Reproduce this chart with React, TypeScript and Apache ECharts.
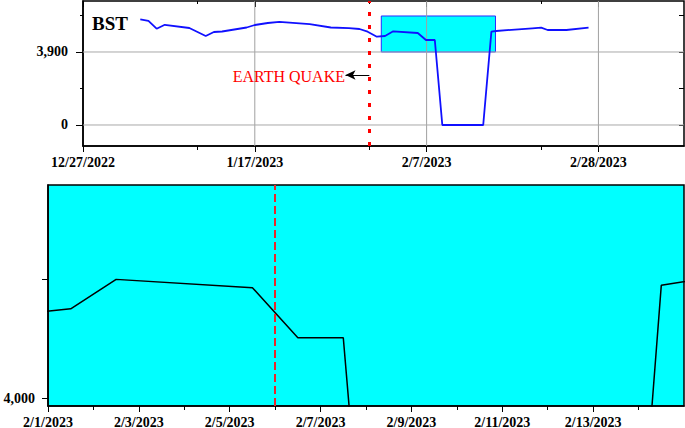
import React, { useEffect, useRef } from 'react';
import * as echarts from 'echarts';

// ---------- data ----------
const bstDates = [
  '2023-01-03', '2023-01-04', '2023-01-05', '2023-01-06', '2023-01-09', '2023-01-11',
  '2023-01-12', '2023-01-13', '2023-01-16', '2023-01-17', '2023-01-18 14:00', '2023-01-20',
  '2023-01-23 17:00', '2023-01-26 07:00', '2023-01-28 12:00', '2023-01-29 19:00', '2023-01-30 19:00',
  '2023-01-31 22:00', '2023-02-01 22:00', '2023-02-02 22:00', '2023-02-05 22:00', '2023-02-06 22:00',
  '2023-02-08 00:00', '2023-02-08 22:00', '2023-02-13 22:00', '2023-02-14 22:00', '2023-02-15 12:00',
  '2023-02-19 22:00', '2023-02-21 00:00', '2023-02-21 19:00', '2023-02-24 02:00', '2023-02-26 19:00',
];
const bstValues = [
  5647, 5566, 5144, 5353, 5182, 4754,
  4968, 4995, 5208, 5342, 5449, 5513,
  5385, 5208, 5171, 5128, 4984,
  4717, 4754, 5005, 4915, 4541,
  4541, 0, 0, 4984, 5021,
  5166, 5198, 5075, 5075, 5198,
];

const detailDates = [
  '2023-01-31 12:00', '2023-02-01 12:00', '2023-02-02 12:00', '2023-02-05 12:00', '2023-02-06 12:00',
  '2023-02-07 12:00', '2023-02-08 12:00', '2023-02-13 12:00', '2023-02-14 12:00', '2023-02-15 12:00',
];
const detailValues = [4712, 4750, 4997, 4927, 4507, 4507, 0, 0, 4947, 5010];

// axes domains and ticks
const topXMin = '2022-12-27';
const topXMax = '2023-03-10 11:00';
const topYMin = -1122;
const topYMax = 6624;
const topMajorDates = ['2022-12-27', '2023-01-17', '2023-02-07', '2023-02-28'];
const topMinorDates = ['2023-01-10', '2023-01-31', '2023-02-21'];
const topGridDates = ['2023-01-17', '2023-02-07', '2023-02-28'];
const topYLabels = [0, 3900];
const topYMinor = [1950, 5850];
const topYGrid = [0, 3900];

const detailXMin = '2023-02-01';
const detailXMax = '2023-02-15';
const detailYMin = 3933;
const detailYMax = 5790;
const detailMajorDates = ['2023-02-01', '2023-02-03', '2023-02-05', '2023-02-07', '2023-02-09', '2023-02-11', '2023-02-13'];
const detailMinorDates = ['2023-02-02', '2023-02-04', '2023-02-06', '2023-02-08', '2023-02-10', '2023-02-12', '2023-02-14'];
const detailYTicks = [4000, 5000];
const detailYLabels = [4000];

// annotations
const zoomBoxStart = '2023-02-01 11:00';
const zoomBoxEnd = '2023-02-15 10:00';
const zoomBoxLow = 3900;
const zoomBoxHigh = 5823;
const quakeDate = '2023-01-31';
const quakeDetailDate = '2023-02-06';
const arrowValue = 2671;
const arrowEndDate = '2023-01-28 02:00';

// ---------- helpers ----------
function ts(s: string): number {
  const [d, t] = s.split(' ');
  const [y, m, day] = d.split('-').map(Number);
  let h = 0;
  let mi = 0;
  if (t) {
    const p = t.split(':').map(Number);
    h = p[0];
    mi = p[1];
  }
  return Date.UTC(y, m - 1, day, h, mi);
}
function fmtDate(v: number): string {
  const d = new Date(v);
  return `${d.getUTCMonth() + 1}/${d.getUTCDate()}/${d.getUTCFullYear()}`;
}
function fmtNum(v: number): string {
  return String(Math.round(v)).replace(/\B(?=(\d{3})+(?!\d))/g, ',');
}

const FONT = "'Liberation Serif', 'Times New Roman', serif";
const labelStyle = { color: '#000', fontFamily: FONT, fontWeight: 'bold' as const, fontSize: 14 };

function tickAxis(opts: any) {
  return {
    type: 'value',
    gridIndex: opts.grid,
    min: opts.min,
    max: opts.max,
    position: opts.position,
    axisLine: { show: !!opts.line, onZero: false, lineStyle: { color: '#000', width: 1.5 } },
    axisTick: {
      show: true,
      inside: !!opts.inside,
      length: opts.len,
      customValues: opts.ticks,
      lineStyle: { color: '#000', width: 1 },
    },
    axisLabel: opts.labels
      ? { show: true, customValues: opts.labels, formatter: opts.formatter, margin: opts.margin, ...labelStyle }
      : { show: false },
    splitLine: { show: false },
    minorTick: { show: false },
  };
}

export default function App() {
  const ref = useRef<HTMLDivElement>(null);

  useEffect(() => {
    if (!ref.current) return;
    const chart = echarts.init(ref.current, undefined, { renderer: 'svg' });

    const txMin = ts(topXMin);
    const txMax = ts(topXMax);
    const dxMin = ts(detailXMin);
    const dxMax = ts(detailXMax);

    const xAxis = [
      tickAxis({ grid: 0, min: txMin, max: txMax, position: 'bottom', line: true, len: 6,
        ticks: topMajorDates.map(ts), labels: topMajorDates.map(ts), formatter: fmtDate, margin: 9 }),
      tickAxis({ grid: 0, min: txMin, max: txMax, position: 'bottom', len: 4, ticks: topMinorDates.map(ts) }),
      tickAxis({ grid: 0, min: txMin, max: txMax, position: 'top', inside: true, len: 6, ticks: topMajorDates.map(ts) }),
      tickAxis({ grid: 0, min: txMin, max: txMax, position: 'top', inside: true, len: 3, ticks: topMinorDates.map(ts) }),
      tickAxis({ grid: 1, min: dxMin, max: dxMax, position: 'bottom', line: true, len: 6,
        ticks: detailMajorDates.map(ts), labels: detailMajorDates.map(ts), formatter: fmtDate, margin: 9 }),
      tickAxis({ grid: 1, min: dxMin, max: dxMax, position: 'bottom', len: 4, ticks: detailMinorDates.map(ts) }),
    ];
    const yAxis = [
      tickAxis({ grid: 0, min: topYMin, max: topYMax, position: 'left', line: true, len: 7,
        ticks: topYLabels, labels: topYLabels, formatter: fmtNum, margin: 15 }),
      tickAxis({ grid: 0, min: topYMin, max: topYMax, position: 'left', len: 3, ticks: topYMinor }),
      tickAxis({ grid: 0, min: topYMin, max: topYMax, position: 'right', inside: true, len: 5,
        ticks: [...topYLabels, ...topYMinor] }),
      tickAxis({ grid: 1, min: detailYMin, max: detailYMax, position: 'left', line: true, len: 6,
        ticks: detailYTicks, labels: detailYLabels, formatter: fmtNum, margin: 13 }),
    ];

    const gridLineSeries: any[] = [
      ...topGridDates.map((d) => ({
        type: 'line', xAxisIndex: 0, yAxisIndex: 0, z: 2, silent: true, symbol: 'none',
        lineStyle: { color: '#a0a0a0', width: 1 },
        data: [[ts(d), topYMin], [ts(d), topYMax]],
      })),
      ...topYGrid.map((v) => ({
        type: 'line', xAxisIndex: 0, yAxisIndex: 0, z: 2, silent: true, symbol: 'none',
        lineStyle: { color: '#a8a8a8', width: 1 },
        data: [[txMin, v], [txMax, v]],
      })),
    ];

    chart.setOption({
      animation: false,
      backgroundColor: '#fff',
      grid: [
        { left: 83, right: 1, top: 1, bottom: 282, show: true, borderColor: '#000', borderWidth: 1.5,
          backgroundColor: 'transparent', containLabel: false, outerBoundsMode: 'none' },
        { left: 48, right: 1, top: 185, bottom: 22, show: true, borderColor: '#000', borderWidth: 1.5,
          backgroundColor: '#00FFFF', containLabel: false, outerBoundsMode: 'none' },
      ],
      xAxis,
      yAxis,
      series: [
        {
          type: 'line', xAxisIndex: 0, yAxisIndex: 0, data: [], silent: true, z: 1,
          markArea: {
            silent: true, z: 1,
            itemStyle: { color: '#00FFFF', borderColor: '#2a2aff', borderWidth: 1 },
            data: [[{ coord: [ts(zoomBoxStart), zoomBoxLow] }, { coord: [ts(zoomBoxEnd), zoomBoxHigh] }]],
          },
        },
        ...gridLineSeries,
        {
          name: 'BST', type: 'line', xAxisIndex: 0, yAxisIndex: 0, z: 3, symbol: 'none', showSymbol: false,
          lineStyle: { color: '#1010ff', width: 1.8 },
          data: bstDates.map((d, i) => [ts(d), bstValues[i]]),
          markLine: {
            silent: true, symbol: ['none', 'none'], label: { show: false },
            data: [
              { xAxis: ts(quakeDate), lineStyle: { color: '#ff0000', width: 3, type: [4, 9] } },
              [
                { coord: [ts(quakeDate), arrowValue], symbol: 'none', lineStyle: { color: '#000', width: 1, type: 'solid' } },
                { coord: [ts(arrowEndDate), arrowValue], symbol: 'arrow', symbolSize: [7, 10] },
              ],
            ],
          },
        },
        {
          name: 'detail', type: 'line', xAxisIndex: 4, yAxisIndex: 3, z: 3, symbol: 'none', showSymbol: false,
          clip: true,
          lineStyle: { color: '#000', width: 1.5 },
          data: detailDates.map((d, i) => [ts(d), detailValues[i]]),
          markLine: {
            silent: true, symbol: ['none', 'none'], label: { show: false },
            lineStyle: { color: '#e8262a', width: 2, type: [8, 4] },
            data: [{ xAxis: ts(quakeDetailDate) }],
          },
        },
      ],
      graphic: [
        {
          type: 'text', x: 92, y: 23, z: 10,
          style: { text: 'BST', fill: '#000', fontFamily: FONT, fontWeight: 'bold', fontSize: 19, verticalAlign: 'middle' },
        },
        {
          type: 'text', x: 345, y: 76, z: 10,
          style: { text: 'EARTH QUAKE', fill: '#ff0000', fontFamily: FONT, fontSize: 16, align: 'right', verticalAlign: 'middle' },
        },
      ],
    });

    return () => chart.dispose();
  }, []);

  return <div ref={ref} style={{ position: 'fixed', left: 0, top: 0, width: 685, height: 428 }} />;
}
